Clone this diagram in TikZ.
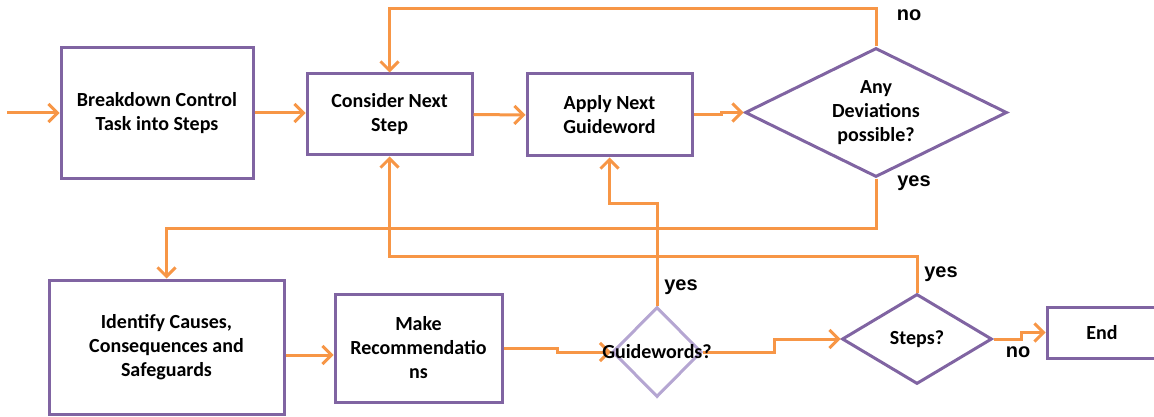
\documentclass[tikz,border=0pt]{standalone}
\usepackage{fontspec}
\setmainfont{Carlito}
\newfontfamily\lblfont{Liberation Sans}
\usetikzlibrary{shapes.geometric,arrows.meta,calc}
\definecolor{flow}{HTML}{F79646}
\definecolor{frame}{HTML}{8064A2}
\definecolor{framelight}{HTML}{B5A6D2}

\begin{document}
\begin{tikzpicture}[x=1pt,y=-1pt,
  box/.style={draw=frame, line width=3pt, rectangle, align=center,
    font=\fontsize{20}{24}\selectfont\bfseries, inner sep=0pt},
  decision/.style={draw=frame, line width=3pt, diamond, aspect=2, inner sep=0pt,
    align=center, font=\fontsize{20}{24}\selectfont\bfseries},
  link/.style={draw=flow, line width=3pt,
    -{Straight Barb[length=9pt,width=18pt]}},
  answer/.style={font=\lblfont\fontsize{20}{22}\selectfont\bfseries, inner sep=0pt}]

\useasboundingbox (0,0) rectangle (1154,417);
\clip (0,0) rectangle (1154,417);

% routing levels of the feedback lines
\coordinate (top) at (0,9);
\coordinate (mid1) at (0,228);
\coordinate (mid2) at (0,256);
\coordinate (mid3) at (0,203);

% process boxes
\node[box, minimum width=192pt, minimum height=130pt] (b1) at (157,113)
  {Breakdown Control\\Task into Steps};
\node[box, minimum width=165pt, minimum height=81pt] (b2) at (389.5,114.5)
  {Consider Next\\Step};
\node[box, minimum width=165pt, minimum height=82pt] (b3) at (609.5,115)
  {Apply Next\\Guideword};
\node[box, minimum width=235pt, minimum height=134pt] (b4) at (166.5,347)
  {Identify Causes,\\Consequences and\\Safeguards};
\node[box, minimum width=167pt, minimum height=108pt] (b5) at (418.5,348)
  {Make\\Recommendatio\\ns};
\node[box, minimum width=110pt, minimum height=51pt] (end) at (1102,332.5)
  {End};

% decisions
\node[decision, minimum width=262pt, minimum height=129pt] (d1) at (876,112.5)
  {Any\\Deviations\\possible?};
\node[decision, draw=framelight, aspect=1, minimum width=89pt, minimum height=90pt] (d2) at (657,352) {};
\node[decision, minimum width=150pt, minimum height=90pt] (d3) at (917,339)
  {Steps?};

% connectors
\coordinate (in) at (7,113);
\draw[link] (in) -- (b1.west);
\draw[link] (b1.east) -- (b1.east -| b2.west);
\draw[link] (b2.east) -- (b3.west);
\draw[link] (b3.east) -- ++(28,0) |- (d1.west);
\draw[link] (d1.north) -- (d1.north |- top) -| (b2.north);
\draw[link] (d1.south) -- (d1.south |- mid1) -| (b4.north);
\draw[link] ($(b4.east)+(0,8)$) -- ($(b4.east -| b5.west)+(0,8)$);
\draw[link] (b5.east) -- ++(54,0) |- (d2.west);
\draw[link] (d2.north) -- (d2.north |- mid3) -| (b3.south);
\draw[link] (d2.east) -- ++(71,0) |- (d3.west);
\draw[link] (d3.north) -- (d3.north |- mid2) -| (b2.south);
\draw[link] (d3.east) -- ++(28,0) |- (end.west);

% text of the small decision, wider than its diamond
\node[font=\fontsize{20}{24}\selectfont\bfseries, inner sep=0pt] (d2text) at (d2.center) {Guidewords?};

% answer labels
\node[answer] (no1) at (909,15) {no};
\node[answer] (yes1) at (914,183) {yes};
\node[answer] (yes2) at (681,287) {yes};
\node[answer] (yes3) at (941,274) {yes};
\node[answer] (no2) at (1018,352) {no};
\end{tikzpicture}
\end{document}
